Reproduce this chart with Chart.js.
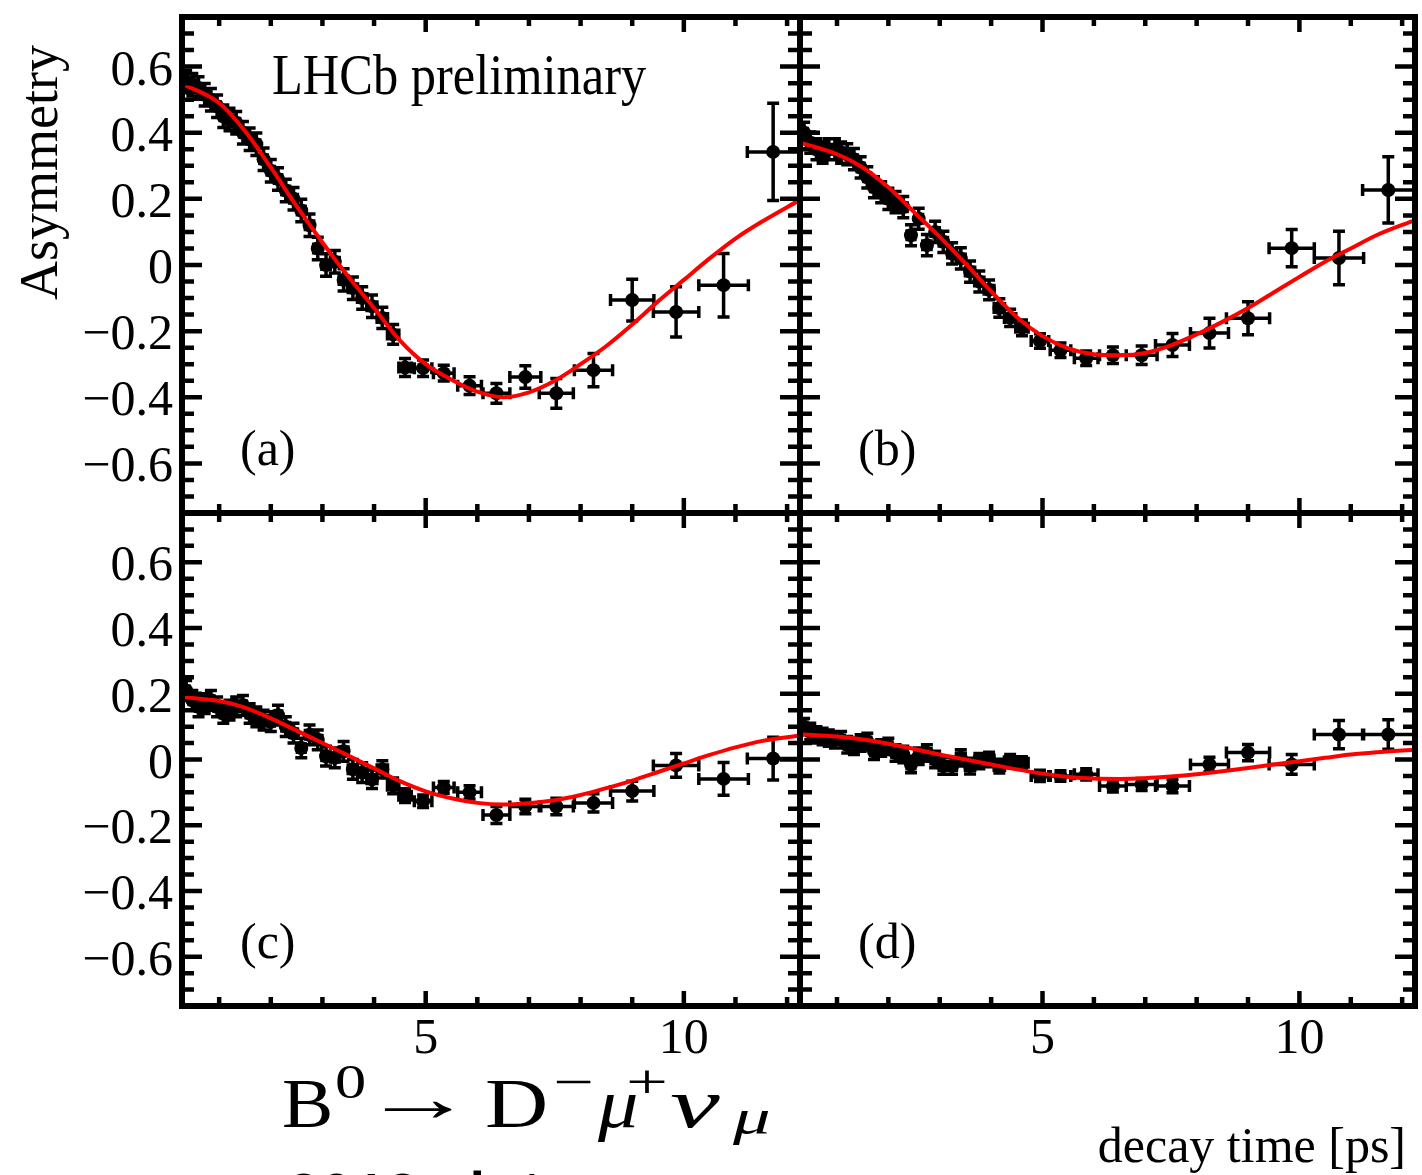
<!DOCTYPE html>
<html>
<head>
<meta charset="utf-8">
<script src="https://cdn.jsdelivr.net/npm/chart.js@4.4.1/dist/chart.umd.min.js"></script>
<style>
  body { margin: 0; background: #fff; }
  #fig { position: relative; width: 1422px; height: 1175px; overflow: hidden; background: #fff; }
  #fig canvas { position: absolute; }
  .txt { position: absolute; font-family: "Liberation Serif", serif; color: #000; white-space: nowrap; line-height: 1; transform-origin: 0 0; }
  .big { font-size: 70px; top: 1069px; }
  .up { font-size: 48px; top: 1058px; }
</style>
</head>
<body>
<div id="fig">
  <canvas id="panelA" width="830" height="540" style="left:0;top:0"></canvas>
  <canvas id="panelB" width="652" height="540" style="left:770px;top:0"></canvas>
  <canvas id="panelC" width="830" height="600" style="left:0;top:486px"></canvas>
  <canvas id="panelD" width="652" height="600" style="left:770px;top:486px"></canvas>

  <div class="txt" style="left:272px;top:46px;font-size:58px;transform:scaleX(0.87);">LHCb preliminary</div>
  <div class="txt" style="left:12px;top:300px;font-size:54px;transform:rotate(-90deg);">Asymmetry</div>

  <!-- decay channel, built piece by piece -->
  <div class="txt big" style="left:282px;transform:scaleX(1.1);">B</div>
  <div class="txt up" style="left:335px;transform:scaleX(1.3);">0</div>
  <div class="txt" style="left:362px;top:1064px;font-size:68px;transform:scaleX(1.65);">&#8594;</div>
  <div class="txt big" style="left:485px;transform:scaleX(1.25);">D</div>
  <div class="txt up" style="left:553px;transform:scaleX(1.5);">&#8722;</div>
  <div class="txt big" style="left:598px;transform:scaleX(1.15);"><i>&#956;</i></div>
  <div class="txt up" style="left:626px;transform:scaleX(1.55);">+</div>
  <div class="txt big" style="left:670px;transform:scaleX(1.6);"><i>&#957;</i></div>
  <div class="txt" style="left:733px;top:1092px;font-size:50px;transform:scaleX(1.5);"><i>&#956;</i></div>

  <div class="txt" style="right:16px;top:1120px;font-size:50px;">decay time [ps]</div>
  <div class="txt" style="left:287px;top:1169px;font-size:55px;font-family:'Liberation Mono',monospace;font-weight:bold;">2012 data</div>
</div>

<script>
// decay-time bins shared by all four tagging categories
const binCenters = [0.36, 0.48, 0.60, 0.72, 0.84, 0.96, 1.08, 1.20, 1.33, 1.46,
  1.59, 1.72, 1.86, 2.00, 2.14, 2.29, 2.44, 2.59, 2.75, 2.91,
  3.07, 3.24, 3.41, 3.59, 3.77, 3.96, 4.16, 4.37, 4.60, 4.95,
  5.35, 5.85, 6.37, 6.93, 7.53, 8.25, 9.00, 9.85, 10.77, 11.73];
const binHalfWidths = [0.06, 0.06, 0.06, 0.06, 0.06, 0.06, 0.06, 0.06, 0.065, 0.065,
  0.065, 0.065, 0.07, 0.07, 0.07, 0.075, 0.075, 0.075, 0.08, 0.08,
  0.08, 0.085, 0.085, 0.09, 0.09, 0.095, 0.1, 0.11, 0.12, 0.17,
  0.2, 0.23, 0.26, 0.3, 0.33, 0.37, 0.42, 0.44, 0.48, 0.5];

const asymA = [0.555, 0.545, 0.535, 0.515, 0.50, 0.48, 0.45, 0.44, 0.43, 0.40,
  0.38, 0.365, 0.32, 0.285, 0.26, 0.225, 0.20, 0.165, 0.12, 0.05,
  0.0, 0.01, -0.045, -0.07, -0.10, -0.125, -0.16, -0.21, -0.31, -0.312,
  -0.327, -0.365, -0.388, -0.339, -0.388, -0.318, -0.106, -0.142, -0.061, 0.342];
const errA = [0.034, 0.034, 0.034, 0.034, 0.034, 0.034, 0.034, 0.034, 0.034, 0.034,
  0.034, 0.034, 0.034, 0.034, 0.034, 0.034, 0.034, 0.034, 0.034, 0.034,
  0.034, 0.034, 0.034, 0.034, 0.034, 0.034, 0.032, 0.03, 0.027, 0.025,
  0.024, 0.027, 0.03, 0.034, 0.045, 0.05, 0.063, 0.076, 0.096, 0.147];

const asymB = [0.40, 0.37, 0.35, 0.34, 0.35, 0.35, 0.34, 0.335, 0.32, 0.295,
  0.265, 0.235, 0.22, 0.20, 0.19, 0.175, 0.09, 0.14, 0.06, 0.10,
  0.07, 0.035, 0.02, -0.02, -0.05, -0.075, -0.13, -0.16, -0.19, -0.23,
  -0.258, -0.282, -0.273, -0.273, -0.242, -0.206, -0.161, 0.051, 0.021, 0.227];
const errB = [0.032, 0.032, 0.032, 0.032, 0.032, 0.032, 0.032, 0.032, 0.032, 0.032,
  0.032, 0.032, 0.032, 0.032, 0.032, 0.032, 0.032, 0.032, 0.032, 0.032,
  0.032, 0.032, 0.032, 0.032, 0.032, 0.03, 0.028, 0.026, 0.024, 0.022,
  0.022, 0.022, 0.025, 0.028, 0.035, 0.045, 0.05, 0.056, 0.081, 0.1];

const asymC = [0.21, 0.18, 0.16, 0.17, 0.18, 0.16, 0.14, 0.15, 0.16, 0.165,
  0.14, 0.13, 0.12, 0.115, 0.135, 0.10, 0.08, 0.035, 0.075, 0.06,
  0.01, 0.005, 0.025, -0.03, -0.04, -0.06, -0.03, -0.08, -0.11, -0.127,
  -0.085, -0.10, -0.169, -0.143, -0.143, -0.132, -0.096, -0.018, -0.059, 0.003];
const errC = [0.03, 0.03, 0.03, 0.03, 0.03, 0.03, 0.03, 0.03, 0.03, 0.03,
  0.03, 0.03, 0.03, 0.03, 0.03, 0.03, 0.03, 0.03, 0.03, 0.03,
  0.03, 0.03, 0.03, 0.03, 0.03, 0.028, 0.026, 0.024, 0.021, 0.019,
  0.018, 0.02, 0.026, 0.022, 0.025, 0.028, 0.03, 0.036, 0.05, 0.065];

const asymD = [0.10, 0.085, 0.075, 0.07, 0.065, 0.06, 0.06, 0.045, 0.04, 0.05,
  0.055, 0.025, 0.035, 0.04, 0.02, 0.015, -0.015, 0.01, 0.02, 0.0,
  -0.02, -0.02, 0.005, -0.02, -0.005, 0.0, -0.02, -0.005, -0.01, -0.05,
  -0.05, -0.045, -0.081, -0.076, -0.081, -0.015, 0.021, -0.015, 0.076, 0.076];
const errD = [0.025, 0.025, 0.025, 0.025, 0.025, 0.025, 0.025, 0.025, 0.025, 0.025,
  0.025, 0.025, 0.025, 0.025, 0.025, 0.025, 0.025, 0.025, 0.025, 0.025,
  0.025, 0.025, 0.025, 0.024, 0.023, 0.022, 0.021, 0.02, 0.018, 0.017,
  0.016, 0.017, 0.018, 0.018, 0.02, 0.022, 0.025, 0.03, 0.043, 0.045];

// fitted oscillation, sampled along decay time
const fitTime = [0.28, 1.0, 1.5, 2.0, 2.5, 3.0, 3.5, 4.0, 4.5, 5.0, 5.5, 6.0,
  6.5, 7.0, 7.5, 8.0, 8.5, 9.0, 9.5, 10.0, 10.5, 11.0, 11.5, 12.25];
const fitA = [0.548, 0.49, 0.405, 0.295, 0.178, 0.068, -0.035, -0.13, -0.228, -0.30, -0.347, -0.383,
  -0.40, -0.385, -0.35, -0.30, -0.245, -0.18, -0.11, -0.045, 0.02, 0.08, 0.13, 0.197];
const fitB = [0.37, 0.335, 0.295, 0.235, 0.16, 0.085, 0.005, -0.08, -0.158, -0.215, -0.252, -0.27,
  -0.273, -0.266, -0.243, -0.21, -0.172, -0.13, -0.083, -0.036, 0.01, 0.05, 0.09, 0.136];
const fitC = [0.19, 0.178, 0.158, 0.125, 0.088, 0.05, 0.012, -0.027, -0.066, -0.097, -0.118, -0.132,
  -0.137, -0.133, -0.124, -0.108, -0.087, -0.064, -0.038, -0.012, 0.014, 0.037, 0.056, 0.073];
const fitD = [0.077, 0.07, 0.061, 0.048, 0.032, 0.015, 0.0, -0.015, -0.03, -0.043, -0.053, -0.058,
  -0.059, -0.057, -0.052, -0.045, -0.036, -0.026, -0.015, -0.005, 0.005, 0.015, 0.022, 0.03];

const yTickValues = [0.6, 0.4, 0.2, 0, -0.2, -0.4, -0.6];
const yTickLabels = ['0.6', '0.4', '0.2', '0', '\u22120.2', '\u22120.4', '\u22120.6'];
const xTickValues = [5, 10];
const xTickLabels = ['5', '10'];

const T_MIN = 0.28, T_MAX = 12.25, A_MIN = -0.75, A_MAX = 0.75;

// ROOT-style box: inward ticks on every side, labels only on outer axes
const framePlugin = {
  id: 'frame',
  afterDraw(chart, args, opts) {
    const { ctx, chartArea: a, scales: { x, y } } = chart;
    ctx.save();
    ctx.strokeStyle = '#000';
    ctx.lineWidth = 4.5;
    ctx.beginPath();
    for (let i = -14; i <= 14; i++) {
      const v = i * 0.05;
      if (v <= A_MIN || v >= A_MAX) continue;
      const py = y.getPixelForValue(v);
      const len = i % 4 === 0 ? 20 : 12;
      ctx.moveTo(a.left, py); ctx.lineTo(a.left + len, py);
      ctx.moveTo(a.right, py); ctx.lineTo(a.right - len, py);
    }
    for (let t = 1; t <= 12; t++) {
      const px = x.getPixelForValue(t);
      const len = t % 5 === 0 ? 15 : 9;
      ctx.moveTo(px, a.top); ctx.lineTo(px, a.top + len);
      ctx.moveTo(px, a.bottom); ctx.lineTo(px, a.bottom - len);
    }
    ctx.stroke();
    ctx.lineWidth = 6;
    ctx.strokeRect(a.left, a.top, a.right - a.left, a.bottom - a.top);

    ctx.fillStyle = '#000';
    ctx.font = '50px "Liberation Serif"';
    if (opts.yLabels) {
      ctx.textAlign = 'right';
      ctx.textBaseline = 'alphabetic';
      yTickValues.forEach((v, i) => {
        ctx.fillText(yTickLabels[i], a.left - 9, y.getPixelForValue(v) + 18);
      });
    }
    if (opts.xLabels) {
      ctx.textAlign = 'center';
      ctx.textBaseline = 'alphabetic';
      xTickValues.forEach((v, i) => {
        ctx.fillText(xTickLabels[i], x.getPixelForValue(v), a.bottom + 47);
      });
    }
    ctx.textAlign = 'left';
    ctx.fillText(opts.tag, a.left + 58, y.getPixelForValue(-0.55) + 18);
    ctx.restore();
  }
};

// horizontal and vertical error bars with end caps
const errorBarPlugin = {
  id: 'errorBars',
  beforeDatasetsDraw(chart) {
    const { ctx, chartArea: a, scales: { x, y } } = chart;
    const ds = chart.data.datasets[1];
    ctx.save();
    ctx.beginPath();
    ctx.rect(a.left, a.top, a.right - a.left, a.bottom - a.top);
    ctx.clip();
    ctx.strokeStyle = '#000';
    ctx.lineWidth = 3.5;
    ctx.beginPath();
    ds.data.forEach((p) => {
      const px = x.getPixelForValue(p.x), py = y.getPixelForValue(p.y);
      const x0 = x.getPixelForValue(p.x - p.ex), x1 = x.getPixelForValue(p.x + p.ex);
      const y0 = y.getPixelForValue(p.y - p.ey), y1 = y.getPixelForValue(p.y + p.ey);
      ctx.moveTo(x0, py); ctx.lineTo(x1, py);
      ctx.moveTo(x0, py - 6); ctx.lineTo(x0, py + 6);
      ctx.moveTo(x1, py - 6); ctx.lineTo(x1, py + 6);
      ctx.moveTo(px, y0); ctx.lineTo(px, y1);
      ctx.moveTo(px - 6, y0); ctx.lineTo(px + 6, y0);
      ctx.moveTo(px - 6, y1); ctx.lineTo(px + 6, y1);
    });
    ctx.stroke();
    ctx.restore();
  }
};

function makePanel(id, asym, err, fit, padding, frameOpts) {
  const points = binCenters.map((t, i) => ({ x: t, y: asym[i], ex: binHalfWidths[i], ey: err[i] }));
  const curve = fitTime.map((t, i) => ({ x: t, y: fit[i] }));
  return new Chart(document.getElementById(id), {
    type: 'scatter',
    data: {
      datasets: [
        {
          type: 'line',
          data: curve,
          borderColor: '#ff0000',
          borderWidth: 4,
          pointRadius: 0,
          cubicInterpolationMode: 'monotone',
          order: 0
        },
        {
          data: points,
          pointRadius: 7,
          pointBackgroundColor: '#000',
          pointBorderWidth: 0,
          order: 1
        }
      ]
    },
    options: {
      responsive: false,
      animation: false,
      events: [],
      layout: { padding },
      plugins: { legend: { display: false }, tooltip: { enabled: false }, frame: frameOpts },
      scales: {
        x: { type: 'linear', min: T_MIN, max: T_MAX, display: false },
        y: { type: 'linear', min: A_MIN, max: A_MAX, display: false }
      }
    },
    plugins: [errorBarPlugin, framePlugin]
  });
}

makePanel('panelA', asymA, errA, fitA, { left: 182, top: 17, right: 30, bottom: 27 }, { yLabels: true, xLabels: false, tag: '(a)' });
makePanel('panelB', asymB, errB, fitB, { left: 30, top: 17, right: 2, bottom: 27 }, { yLabels: false, xLabels: false, tag: '(b)' });
makePanel('panelC', asymC, errC, fitC, { left: 182, top: 27, right: 30, bottom: 80 }, { yLabels: true, xLabels: true, tag: '(c)' });
makePanel('panelD', asymD, errD, fitD, { left: 30, top: 27, right: 2, bottom: 80 }, { yLabels: false, xLabels: true, tag: '(d)' });
</script>
</body>
</html>
